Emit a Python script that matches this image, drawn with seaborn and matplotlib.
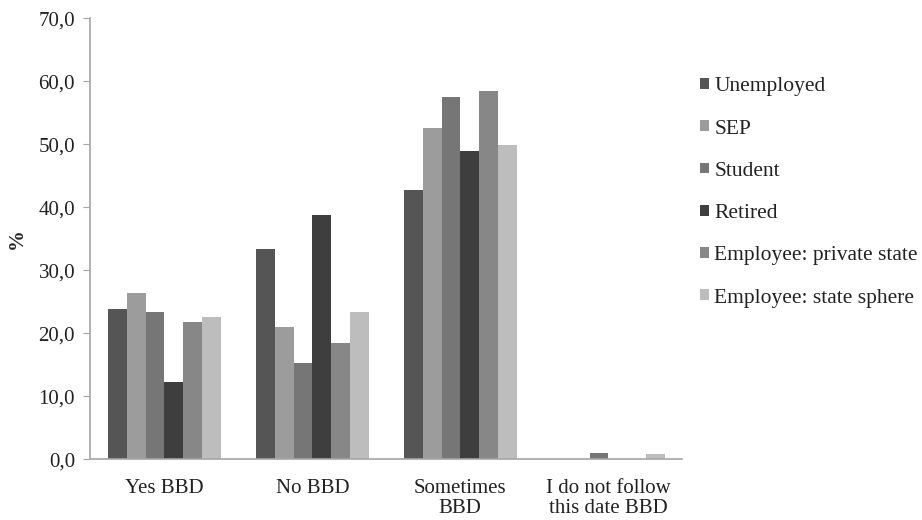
import matplotlib
matplotlib.use("Agg")
import matplotlib.pyplot as plt
import seaborn as sns
import pandas as pd
from matplotlib.ticker import FuncFormatter

categories = ["Yes BBD", "No BBD", "Sometimes\nBBD", "I do not follow\nthis date BBD"]
groups = ["Unemployed", "SEP", "Student", "Retired", "Employee: private state", "Employee: state sphere"]
unemployed = [23.8, 33.3, 42.8, 0.0]
sep = [26.3, 21.0, 52.5, 0.0]
student = [23.3, 15.3, 57.5, 0.9]
retired = [12.2, 38.8, 48.9, 0.0]
private = [21.8, 18.5, 58.4, 0.0]
state = [22.5, 23.3, 49.8, 0.8]
colors = ["#555555", "#9c9c9c", "#767676", "#3e3e3e", "#878787", "#bdbdbd"]

series = [unemployed, sep, student, retired, private, state]
rows = []
for g, vals in zip(groups, series):
    for c, v in zip(categories, vals):
        rows.append({"cat": c, "group": g, "value": v})
df = pd.DataFrame(rows)

sns.set_style("white")
plt.rcParams["font.family"] = ["Liberation Serif", "DejaVu Serif"]

fig = plt.figure(figsize=(9.22, 5.2), dpi=100)
ax = fig.add_axes([0.098, 0.117, 0.642, 0.848])
sns.barplot(data=df, x="cat", y="value", hue="group", order=categories,
            hue_order=groups, palette=colors, width=0.76, ax=ax,
            saturation=1, errorbar=None, linewidth=0)

ax.set_ylim(0, 70)
ax.set_yticks(range(0, 71, 10))
ax.yaxis.set_major_formatter(FuncFormatter(lambda v, p: f"{v:.1f}".replace(".", ",")))
ax.set_xlim(-0.5, 3.5)
ax.set_xlabel("")
ax.set_ylabel("%", fontsize=15, fontweight="bold", labelpad=8)
for s in ["top", "right"]:
    ax.spines[s].set_visible(False)
for s in ["left", "bottom"]:
    ax.spines[s].set_color("#a6a6a6")
    ax.spines[s].set_linewidth(1.2)
ax.tick_params(axis="y", which="both", left=True, length=5, color="#a6a6a6",
               labelsize=15, pad=6, labelcolor="#222222")
ax.tick_params(axis="x", bottom=False, labelsize=15, pad=11, labelcolor="#222222")
for lab in ax.get_xticklabels():
    lab.set_linespacing(1.05)

leg = ax.legend(loc="center left", bbox_to_anchor=(1.012, 0.605), frameon=False,
                fontsize=15.5, handlelength=0.4, handleheight=0.4, borderpad=0,
                handletextpad=0.25, labelspacing=1.08)
for t in leg.get_texts():
    t.set_color("#222222")

fig.savefig("out.png", dpi=100)
